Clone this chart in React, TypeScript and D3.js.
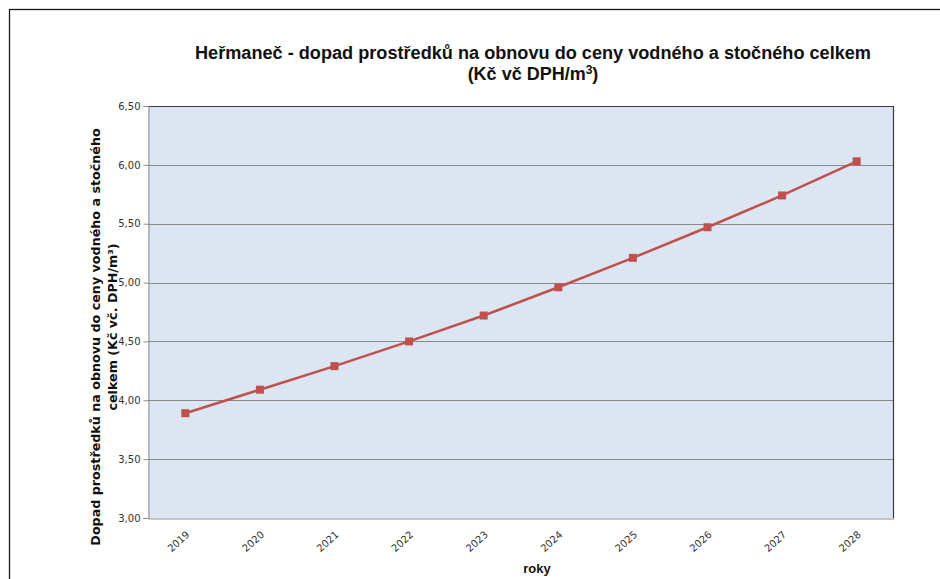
import React, { useEffect, useRef } from 'react';
import * as d3 from 'd3';

const years = ['2019', '2020', '2021', '2022', '2023', '2024', '2025', '2026', '2027', '2028'];
const prices = [3.89, 4.09, 4.29, 4.5, 4.72, 4.96, 5.21, 5.47, 5.74, 6.03];
const yTicks = [3.0, 3.5, 4.0, 4.5, 5.0, 5.5, 6.0, 6.5];

const App = () => {
  const svgRef = useRef<SVGSVGElement>(null);

  useEffect(() => {
    const width = 940;
    const height = 579;
    const plot = { left: 148, top: 106, right: 894, bottom: 518 };

    const svg = d3.select(svgRef.current)
      .attr('width', width)
      .attr('height', height);
    svg.selectAll('*').remove();

    // outer frame of the chart object
    svg.append('rect')
      .attr('x', 9.5).attr('y', 9.5)
      .attr('width', 960).attr('height', 600)
      .attr('fill', 'white')
      .attr('stroke', '#1a1a1a')
      .attr('stroke-width', 1.3);

    const x = d3.scaleBand()
      .domain(years)
      .range([plot.left, plot.right]);

    const y = d3.scaleLinear()
      .domain([3, 6.5])
      .range([plot.bottom, plot.top]);

    // plot background
    svg.append('rect')
      .attr('x', plot.left).attr('y', plot.top)
      .attr('width', plot.right - plot.left)
      .attr('height', plot.bottom - plot.top)
      .attr('fill', '#dce6f2');

    // gridlines
    svg.append('g')
      .selectAll('line')
      .data(yTicks.slice(1))
      .enter().append('line')
      .attr('x1', plot.left).attr('x2', plot.right)
      .attr('y1', d => Math.round(y(d)) + 0.5)
      .attr('y2', d => Math.round(y(d)) + 0.5)
      .attr('stroke', '#8a8a8a')
      .attr('stroke-width', 1.2);

    // top/right border
    svg.append('path')
      .attr('d', `M${plot.left},${plot.top + 0.5}H${plot.right - 0.5}V${plot.bottom}`)
      .attr('fill', 'none')
      .attr('stroke', '#3a3a3a')
      .attr('stroke-width', 1.2);

    // y axis
    const yAxis = d3.axisLeft(y)
      .tickValues(yTicks)
      .tickSize(5)
      .tickFormat(d => d3.format('.2f')(d as number).replace('.', ','));
    const gy = svg.append('g')
      .attr('transform', `translate(${plot.left + 0.5},0)`)
      .call(yAxis);
    gy.select('.domain').attr('stroke', '#8a8a8a');
    gy.selectAll('.tick line').attr('stroke', '#8a8a8a');
    gy.selectAll('.tick text')
      .attr('font-family', 'DejaVu Sans, Verdana, sans-serif')
      .attr('font-size', 10)
      .attr('fill', '#333')
      .attr('x', -8);

    // x axis
    const xAxis = d3.axisBottom(x).tickSize(0).tickSizeOuter(0);
    const gx = svg.append('g')
      .attr('transform', `translate(0,${plot.bottom + 0.5})`)
      .call(xAxis);
    gx.select('.domain').attr('stroke', '#8a8a8a').attr('stroke-width', 1.2);
    gx.selectAll('.tick text')
      .attr('font-family', 'DejaVu Sans, Verdana, sans-serif')
      .attr('font-size', 10)
      .attr('fill', '#333')
      .attr('text-anchor', 'end')
      .attr('dy', 0)
      .attr('y', 0)
      .attr('transform', 'translate(5,17) rotate(-42)');

    // line
    const line = d3.line<number>()
      .x((d, i) => (x(years[i]) as number) + x.bandwidth() / 2)
      .y(d => y(d));

    svg.append('path')
      .datum(prices)
      .attr('d', line)
      .attr('fill', 'none')
      .attr('stroke', '#c0504d')
      .attr('stroke-width', 2.5);

    svg.append('g')
      .selectAll('rect')
      .data(prices)
      .enter().append('rect')
      .attr('x', (d, i) => (x(years[i]) as number) + x.bandwidth() / 2 - 4)
      .attr('y', d => y(d) - 4)
      .attr('width', 8).attr('height', 8)
      .attr('fill', '#c0504d');

    // titles
    const title = svg.append('text')
      .attr('text-anchor', 'middle')
      .attr('font-family', 'Liberation Sans, Arial, sans-serif')
      .attr('font-weight', 'bold')
      .attr('font-size', 18)
      .attr('fill', '#111');
    title.append('tspan')
      .attr('x', 533).attr('y', 59)
      .attr('textLength', 676)
      .attr('lengthAdjust', 'spacingAndGlyphs')
      .text('Heřmaneč - dopad prostředků na obnovu do ceny vodného a stočného celkem');
    const t2 = title.append('tspan')
      .attr('x', 533).attr('y', 80)
      .text('(Kč vč DPH/m');
    t2.append('tspan').attr('font-size', 12).attr('dy', -6).text('3');
    title.append('tspan').attr('dy', 6).text(')');

    const ytitle = svg.append('text')
      .attr('transform', 'translate(100,337) rotate(-90)')
      .attr('text-anchor', 'middle')
      .attr('font-family', 'DejaVu Sans, Verdana, sans-serif')
      .attr('font-weight', 'bold')
      .attr('font-size', 12.7)
      .attr('fill', '#111');
    ytitle.append('tspan').attr('x', 0).attr('y', 0)
      .text('Dopad prostředků na obnovu do ceny vodného a stočného');
    ytitle.append('tspan').attr('x', 10).attr('y', 17)
      .text('celkem (Kč vč. DPH/m³)');

    svg.append('text')
      .attr('x', 537).attr('y', 573)
      .attr('text-anchor', 'middle')
      .attr('font-family', 'Liberation Sans, Arial, sans-serif')
      .attr('font-weight', 'bold')
      .attr('font-size', 13)
      .attr('fill', '#111')
      .text('roky');
  }, []);

  return <svg ref={svgRef} style={{ position: 'absolute', left: 0, top: 0 }}></svg>;
};

export default App;
